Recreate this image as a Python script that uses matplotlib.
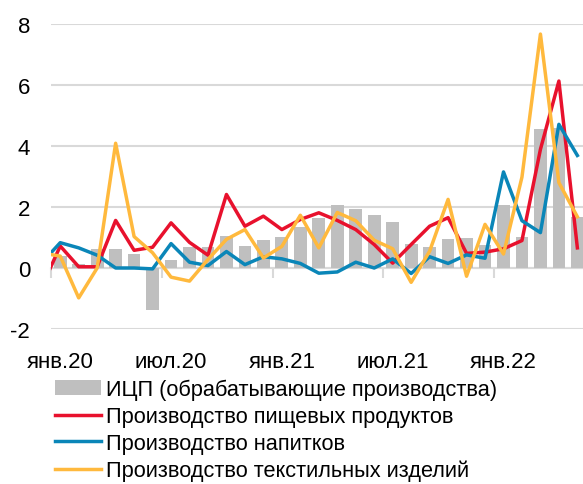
import numpy as np
import matplotlib
matplotlib.use('Agg')
import matplotlib.pyplot as plt

plt.rcParams['font.family'] = ['Liberation Sans', 'DejaVu Sans']
plt.rcParams['axes.unicode_minus'] = False

# months Jan 2020 .. May 2022
months = ['янв.20', 'фев.20', 'мар.20', 'апр.20', 'май.20', 'июн.20',
          'июл.20', 'авг.20', 'сен.20', 'окт.20', 'ноя.20', 'дек.20',
          'янв.21', 'фев.21', 'мар.21', 'апр.21', 'май.21', 'июн.21',
          'июл.21', 'авг.21', 'сен.21', 'окт.21', 'ноя.21', 'дек.21',
          'янв.22', 'фев.22', 'мар.22', 'апр.22', 'май.22']
tick_months = ['янв.20', 'июл.20', 'янв.21', 'июл.21', 'янв.22']

icp = [0.39, 0.14, 0.61, 0.61, 0.47, -1.38, 0.27, 0.70, 0.69, 1.05, 0.72, 0.91,
       1.02, 1.36, 1.65, 2.08, 1.92, 1.75, 1.50, 0.80, 0.70, 0.94, 1.00, 0.77,
       2.05, 1.02, 4.57, 4.60, 1.68]

# line series start with Dec 2019 (cut off at the left edge)
food = [-0.62, 0.72, 0.04, 0.04, 1.56, 0.58, 0.68, 1.48, 0.84, 0.42, 2.41, 1.37, 1.70,
        1.26, 1.59, 1.81, 1.56, 1.26, 0.77, 0.16, 0.77, 1.37, 1.65, 0.48, 0.52,
        0.63, 0.90, 3.89, 6.13, 0.66]
drinks = [0.17, 0.83, 0.66, 0.42, 0.00, 0.00, -0.03, 0.80, 0.19, 0.08, 0.54, 0.11, 0.37,
          0.30, 0.15, -0.17, -0.13, 0.19, 0.00, 0.30, -0.18, 0.37, 0.15, 0.43, 0.32,
          3.15, 1.55, 1.16, 4.71, 3.69]
textile = [0.49, 0.39, -0.98, 0.00, 4.09, 1.03, 0.50, -0.30, -0.43, 0.28, 0.94, 1.26, 0.33,
           0.71, 1.73, 0.66, 1.82, 1.55, 0.91, 0.63, -0.47, 0.55, 2.25, -0.27, 1.43,
           0.46, 2.98, 7.67, 2.80, 1.68]

names = ['ИЦП (обрабатывающие производства)', 'Производство пищевых продуктов',
         'Производство напитков', 'Производство текстильных изделий']

W, H = 583, 485
fig = plt.figure(figsize=(W / 100, H / 100), dpi=100)
ax = fig.add_axes([51 / W, 1 - 330 / H, 535.6 / W, 305 / H])

x = np.arange(len(months))
xl = np.arange(-1, len(months))

b = ax.bar(x, icp, width=0.69, color='#bfbfbf', zorder=2)
l1, = ax.plot(xl, food, color='#e8112d', lw=2.5, zorder=3)
l2, = ax.plot(xl, drinks, color='#0a86b8', lw=2.5, zorder=3)
l3, = ax.plot(xl, textile, color='#ffb93d', lw=2.5, zorder=3)

ax.set_xlim(-0.5, len(months) - 0.5)
ax.set_ylim(-2, 8)
ax.set_yticks([-2, 0, 2, 4, 6, 8])
ax.yaxis.grid(True, color='#d9d9d9', lw=1.5, zorder=0)
ax.set_axisbelow(True)
for s in ax.spines.values():
    s.set_visible(False)
ax.tick_params(axis='y', length=0, pad=15, labelsize=16)

ax.set_xticks([months.index(m) for m in tick_months])
ax.set_xticklabels(tick_months)
ax.tick_params(axis='x', length=0, pad=16, labelsize=16)

# horizontal axis line at zero with tick marks between half-years
zero = ax.secondary_xaxis(0.2)
zero.set_xticks(np.arange(-0.5, len(months), 6))
zero.set_xticklabels([])
zero.tick_params(length=7, width=1.5, color='#d9d9d9')
zero.spines['bottom'].set_color('#d9d9d9')
zero.spines['bottom'].set_linewidth(1.5)

fig.legend([b, l1, l2, l3], names, loc='upper left',
           bbox_to_anchor=(55 / W, 1 - 380 / H), frameon=False,
           fontsize=15.7, handlelength=2.1, handletextpad=0.25, labelspacing=0.27,
           borderpad=0, borderaxespad=0)

fig.savefig('out.png', dpi=100)
